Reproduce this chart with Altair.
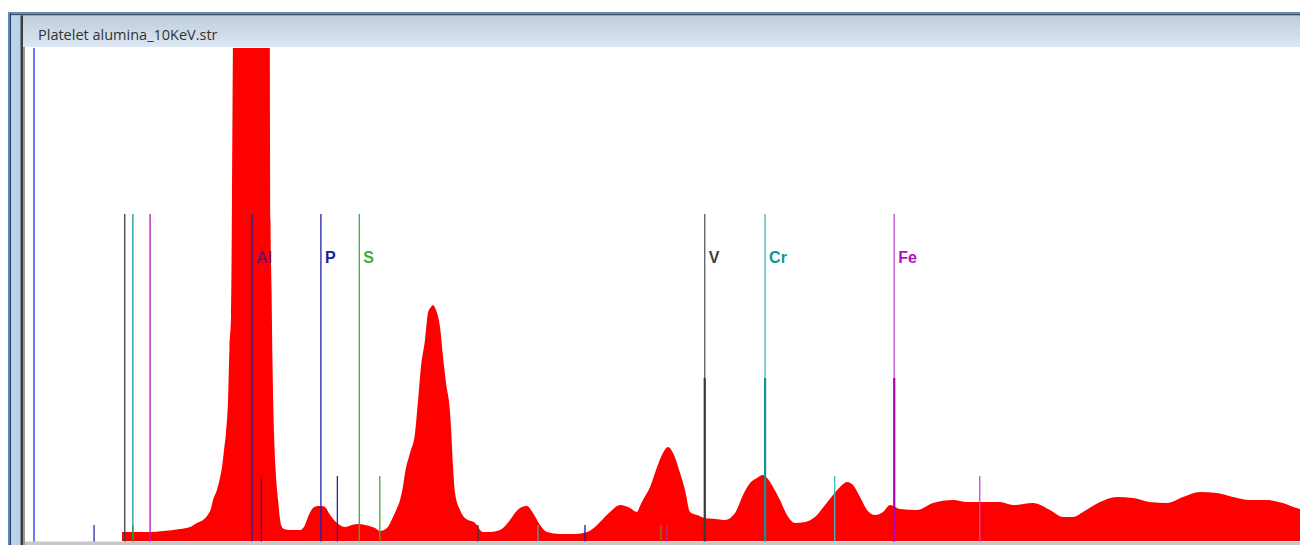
import altair as alt
import pandas as pd

# ---------------- data ----------------
window_title = "Platelet alumina_10KeV.str"

energy_kev = [0.490, 0.704, 0.804, 0.934, 1.011, 1.064, 1.110, 1.141, 1.172, 1.187,
              1.217, 1.240, 1.256, 1.271, 1.286, 1.302, 1.313, 1.325, 1.332, 1.344,
              1.363, 1.485, 1.593, 1.619, 1.627, 1.635, 1.642, 1.654, 1.665, 1.685,
              1.708, 1.730, 1.776, 1.853, 1.891, 1.914, 1.953, 1.991, 2.021, 2.044,
              2.083, 2.136, 2.198, 2.251, 2.297, 2.351, 2.427, 2.466, 2.519, 2.565,
              2.596, 2.619, 2.642, 2.657, 2.695, 2.734, 2.757, 2.779, 2.810, 2.833,
              2.856, 2.871, 2.894, 2.925, 2.948, 2.971, 3.002, 3.009, 3.025, 3.040,
              3.078, 3.116, 3.193, 3.254, 3.308, 3.384, 3.423, 3.461, 3.499, 3.538,
              3.591, 3.637, 3.691, 3.744, 3.844, 3.959, 4.051, 4.112, 4.150, 4.227,
              4.303, 4.380, 4.433, 4.456, 4.479, 4.533, 4.587, 4.632, 4.671, 4.709,
              4.763, 4.801, 4.839, 4.893, 4.954, 5.031, 5.107, 5.184, 5.245, 5.299,
              5.352, 5.398, 5.436, 5.475, 5.528, 5.582, 5.643, 5.720, 5.796, 5.873,
              5.934, 5.988, 6.041, 6.087, 6.141, 6.195, 6.256, 6.317, 6.371, 6.447,
              6.577, 6.700, 6.853, 6.960, 7.060, 7.213, 7.312, 7.466, 7.596, 7.695,
              7.772, 7.848, 7.979, 8.109, 8.231, 8.361, 8.492, 8.614, 8.744, 8.874,
              8.997, 9.127, 9.257, 9.380, 9.510, 9.571]
counts = [9, 9, 10, 12, 14, 18, 21, 25, 33, 41,
          51, 63, 74, 91, 108, 141, 194, 226, 341, 600,
          900, 1100, 900, 600, 320, 251, 181, 108, 74, 41,
          16, 12, 11, 11, 16, 24, 33, 35, 35, 34,
          26, 18, 14, 16, 17, 16, 13, 10, 13, 24,
          33, 41, 55, 68, 88, 108, 141, 174, 201, 228,
          234, 236, 231, 214, 184, 158, 128, 114, 74, 48,
          31, 23, 18, 9, 9, 11, 15, 21, 28, 33,
          35, 28, 16, 9, 7, 7, 9, 14, 19, 29,
          36, 33, 29, 35, 41, 54, 74, 88, 94, 88,
          68, 51, 29, 26, 23, 22, 21, 28, 46, 58,
          63, 66, 62, 54, 41, 26, 18, 19, 24, 36,
          46, 54, 59, 56, 44, 31, 26, 29, 36, 32,
          31, 38, 41, 39, 39, 39, 36, 38, 31, 24,
          24, 29, 39, 44, 43, 39, 38, 44, 49, 48,
          44, 41, 41, 38, 32, 31]

# element marker lines (keV, marker height in counts, colour)
marker_energy = [-0.184, 0.511, 0.573, 0.705, 1.486, 2.013, 2.307, 4.952, 5.414, 6.403,
                 1.557, 2.139, 2.464, 5.947, 7.058,
                 0.276, 0.573, 3.216, 3.675, 4.035, 4.617, 4.663]
marker_top = [493, 327, 327, 327, 327, 327, 327, 327, 327, 327,
              65, 65, 65, 65, 65,
              16, 16, 16, 16, 16, 16, 16]
marker_color = ["#2a2aff", "#404040", "#189c9c", "#b018c0", "#24248a", "#2020b0", "#38b038",
                "#5a5a5a", "#3cb8b8", "#c050cc",
                "#24248a", "#2020b0", "#38b038", "#3cb8b8", "#c050cc",
                "#2a2ac0", "#2aa02a", "#3a3a3a", "#28b0b0", "#1c1ca0", "#6a8a20", "#b028b0"]

# thicker lower part of the fitted K-alpha markers
thick_energy = [4.952, 5.414, 6.403]
thick_top = [163, 163, 163]
thick_color = ["#3a3a3a", "#109494", "#b000b4"]

# element labels
label_text = ["Al", "P", "S", "V", "Cr", "Fe"]
label_energy = [1.486, 2.013, 2.307, 4.952, 5.414, 6.403]
label_level = [278, 278, 278, 278, 278, 278]
label_color = ["#6e1460", "#1c1c9c", "#3fae3f", "#3f3f3f", "#0f9696", "#b010b8"]

# ---------------- chart ----------------
W, H = 1292, 537
x_scale = alt.Scale(domain=[-0.383, 9.510], nice=False, zero=False)
y_scale = alt.Scale(domain=[-4, 533], nice=False, zero=False)

spec = pd.DataFrame({"energy": energy_kev, "counts": counts})
markers = pd.DataFrame({"energy": marker_energy, "top": marker_top, "color": marker_color})
thick = pd.DataFrame({"energy": thick_energy, "top": thick_top, "color": thick_color})
labels = pd.DataFrame({"energy": label_energy, "level": label_level,
                       "text": label_text, "color": label_color})

area = alt.Chart(spec).mark_area(color="#ff0000", clip=True, interpolate="monotone").encode(
    x=alt.X("energy:Q", scale=x_scale, axis=None),
    y=alt.Y("counts:Q", scale=y_scale, axis=None),
    y2=alt.datum(0),
)

rules = alt.Chart(markers).mark_rule(strokeWidth=1.3, clip=True).encode(
    x=alt.X("energy:Q", scale=x_scale, axis=None),
    y=alt.Y("top:Q", scale=y_scale, axis=None),
    y2=alt.datum(-4),
    color=alt.Color("color:N", scale=None),
)

thick_rules = alt.Chart(thick).mark_rule(strokeWidth=2.2).encode(
    x=alt.X("energy:Q", scale=x_scale, axis=None),
    y=alt.Y("top:Q", scale=y_scale, axis=None),
    y2=alt.datum(-4),
    color=alt.Color("color:N", scale=None),
)

text_labels = alt.Chart(labels).mark_text(
    align="left", baseline="alphabetic", dx=4, font="Liberation Sans",
    fontSize=16, fontWeight="bold",
).encode(
    x=alt.X("energy:Q", scale=x_scale, axis=None),
    y=alt.Y("level:Q", scale=y_scale, axis=None),
    text="text:N",
    color=alt.Color("color:N", scale=None),
)

# ---------------- window chrome (decoration, pixel positions) ----------------
one = pd.DataFrame({"k": [0]})
chrome_specs = [
    # x, x2, y, y2, colour  (chart pixel coordinates)
    (0, W, -6, 40, "#ffffff"),
    (0, W, 4, 5.5, "#5b8bc6"),
    (2, W, 5.5, 7.5, "#4a4f57"),
    (12, W, 7.5, 8.5, "#9aa0a8"),
    (0, 1.5, 4, H, "#5b8bc6"),
    (1.5, 3, 5.5, H, "#2e3b4e"),
    (3, 12, 7.5, H, "#b9d3ec"),
    (12, 13, 7.5, H, "#7f8a96"),
    (13, 15, 7.5, H, "#3c3c3c"),
    (15, 17, 39, H, "#9a9a9a"),
    (17, W, 533.5, H, "#c8c8c8"),
]
chrome_layers = []
for x0, x1, y0, y1, col in chrome_specs:
    chrome_layers.append(
        alt.Chart(one).mark_rect(color=col).encode(
            x=alt.value(x0), x2=alt.value(x1), y=alt.value(y0), y2=alt.value(y1)
        )
    )

title_bar = alt.Chart(one).mark_rect(
    color=alt.Gradient(
        gradient="linear",
        stops=[alt.GradientStop(color="#bfcddb", offset=0),
               alt.GradientStop(color="#dce7f3", offset=1)],
        x1=0, x2=0, y1=0, y2=1,
    )
).encode(x=alt.value(15), x2=alt.value(W), y=alt.value(8.5), y2=alt.value(39))

title_text = alt.Chart(one).mark_text(
    align="left", baseline="alphabetic", font="Open Sans", fontSize=14.5, color="#333333"
).encode(x=alt.value(30), y=alt.value(31.5), text=alt.value(window_title))

chart = alt.layer(
    area, rules, thick_rules, text_labels, *chrome_layers, title_bar, title_text
).properties(
    width=W, height=H, padding=0, background="#ffffff",
    autosize=alt.AutoSizeParams(type="none"),
).configure_view(stroke=None)

chart.save("out.html", embed_options={"renderer": "svg", "actions": False})
